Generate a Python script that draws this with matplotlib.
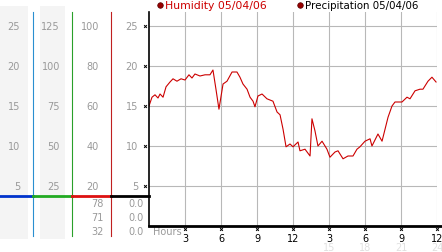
import numpy as np
import matplotlib.pyplot as plt
from matplotlib import transforms

# humidity trace, hours since midnight vs value on the 0-25 scale
hours = [0.0, 0.25, 0.5, 0.75, 0.92, 1.17, 1.42, 1.75, 2.0, 2.33, 2.67, 3.0,
         3.33, 3.58, 3.83, 4.25, 4.67, 5.08, 5.33, 5.58, 5.83, 6.17, 6.5,
         6.92, 7.33, 7.58, 7.83, 8.17, 8.42, 8.67, 8.83, 9.08, 9.42, 9.83,
         10.33, 10.67, 10.92, 11.17, 11.42, 11.75, 12.0, 12.42, 12.58, 13.0,
         13.42, 13.58, 13.83, 14.08, 14.42, 14.83, 15.08, 15.5, 15.75, 16.17,
         16.58, 17.0, 17.33, 17.58, 18.0, 18.42, 18.58, 19.08, 19.42, 19.67,
         19.92, 20.25, 20.5, 21.08, 21.5, 21.75, 22.17, 22.58, 22.83, 23.25,
         23.58, 23.92]
humidity = [15.0, 16.1, 16.4, 16.0, 16.5, 16.1, 17.4, 18.0, 18.4, 18.1, 18.4,
            18.25, 18.9, 18.5, 19.0, 18.75, 18.9, 18.9, 19.5, 17.1, 14.6,
            17.75, 18.1, 19.25, 19.25, 18.6, 17.75, 17.1, 16.1, 15.6, 14.9,
            16.25, 16.5, 15.9, 15.6, 14.25, 13.9, 12.1, 9.9, 10.25, 9.9, 10.5,
            9.4, 9.6, 8.75, 13.4, 11.9, 10.0, 10.6, 9.6, 8.6, 9.25, 9.4, 8.4,
            8.75, 8.75, 9.6, 9.9, 10.6, 10.9, 10.0, 11.5, 10.6, 12.1, 13.6,
            15.0, 15.5, 15.5, 16.1, 15.9, 16.9, 17.1, 17.1, 18.1, 18.6, 18.0]

yticks = [5, 10, 15, 20, 25]
col1 = ["5", "10", "15", "20", "25"]
col2 = ["25", "50", "75", "100", "125"]
col3 = ["20", "40", "60", "80", "100"]
col4 = ["5", "10", "15", "20", "25"]
low3 = ["78", "71", "32"]
low4 = ["0.0", "0.0", "0.0"]
xticks = [3, 6, 9, 12, 15, 18, 21, 24]
xlabels = ["3", "6", "9", "12", "3", "6", "9", "12"]
faint = ["15", "18", "21", "24"]

W, H = 442, 253
fig = plt.figure(figsize=(W / 100, H / 100), dpi=100)

# overlay in pixel coords for the side panels
bg = fig.add_axes([0, 0, 1, 1])
bg.set_xlim(0, W)
bg.set_ylim(H, 0)
bg.axis('off')

ax = fig.add_axes([149 / W, (H - 227) / H, 288 / W, 214 / H])
ax.set_facecolor('none')
ax.set_xlim(0, 24)
ax.set_ylim(0, 26.75)

# side panel shading and separators
bg.fill_between([0, 28], 7, 240, color='#f4f4f4', lw=0)
bg.fill_between([40, 65], 7, 240, color='#f4f4f4', lw=0)
bg.plot([33, 33], [13, 237], color='#2a8fd0', lw=0.8)
bg.plot([72, 72], [13, 237], color='#2aa02a', lw=0.8)
bg.plot([111, 111], [13, 237], color='#c02020', lw=0.8)
bg.plot([0, 33], [197, 197], color='#0033cc', lw=2)
bg.plot([33, 72], [197, 197], color='#22aa22', lw=2)
bg.plot([72, 111], [197, 197], color='#dd1111', lw=2)
bg.plot([111, 149], [197, 197], color='black', lw=2)

gray = '#999999'
fs = 7
tr = transforms.blended_transform_factory(bg.transData, ax.transData)
for v, a, b, c, d in zip(yticks, col1, col2, col3, col4):
    bg.text(20, v, a, transform=tr, ha='right', va='center', color=gray, fontsize=fs)
    bg.text(60, v, b, transform=tr, ha='right', va='center', color=gray, fontsize=fs)
    bg.text(99, v, c, transform=tr, ha='right', va='center', color=gray, fontsize=fs)
    bg.text(138, v, d, transform=tr, ha='right', va='center', color=gray, fontsize=fs)
    bg.plot([145], [v], marker='x', ms=2, mew=0.7, color='black', transform=tr)

for i, (a, b) in enumerate(zip(low3, low4)):
    yy = 204 + 14 * i
    bg.text(104, yy, a, ha='right', va='center', color=gray, fontsize=fs)
    bg.text(144, yy, b, ha='right', va='center', color=gray, fontsize=fs)

# main chart
ax.grid(True, color='#b8b8b8', lw=0.8)
ax.set_xticks(xticks)
ax.set_yticks(yticks)
ax.tick_params(length=0, labelbottom=False, labelleft=False)
for s in ['top', 'right']:
    ax.spines[s].set_visible(False)
ax.spines['left'].set_linewidth(1.2)
ax.spines['bottom'].set_linewidth(2)
ax.spines['bottom'].set_bounds(0, 24.4)
ax.spines['bottom'].set_clip_on(False)
ax.plot(hours, humidity, color='#cc0000', lw=0.8)

trx = transforms.blended_transform_factory(ax.transData, bg.transData)
for h, lab in zip(xticks, xlabels):
    bg.plot([h], [230], marker='x', ms=2, mew=0.7, color='black', transform=trx)
    bg.text(h, 239, lab, transform=trx, ha='center', va='center', color='black', fontsize=fs)
for h, lab in zip(xticks[4:], faint):
    bg.text(h, 248, lab, transform=trx, ha='center', va='center', color='#e0e0e0', fontsize=fs)
bg.text(153, 232, "Hours", ha='left', va='center', color=gray, fontsize=fs)

# legend
bg.plot([160], [6], 'o', ms=4, color='#990000', mec='#550000', mew=0.5)
bg.text(165, 6, "Humidity 05/04/06", ha='left', va='center', color='#cc0000', fontsize=7.8)
bg.plot([300], [6], 'o', ms=4, color='#990000', mec='#550000', mew=0.5)
bg.text(305, 6, "Precipitation 05/04/06", ha='left', va='center', color='black', fontsize=7.4)

fig.savefig('out.png', dpi=100)
